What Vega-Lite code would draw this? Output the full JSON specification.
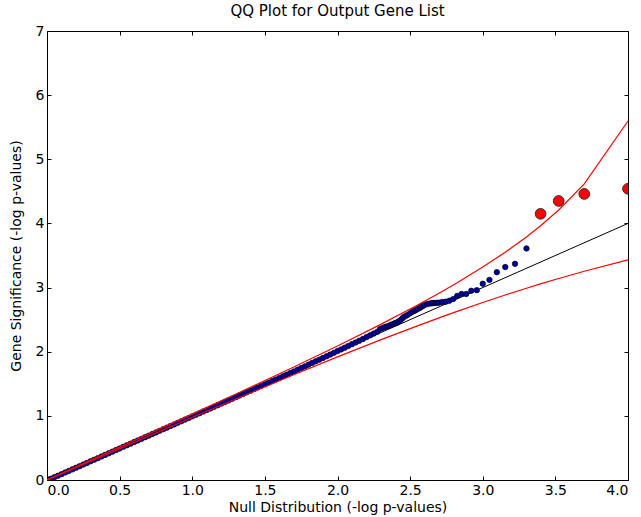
{
  "$schema": "https://vega.github.io/schema/vega-lite/v6.json",
  "autosize": "none",
  "width": 581,
  "height": 449,
  "padding": {"left": 47, "top": 31, "right": 13, "bottom": 37},
  "background": "white",
  "title": {"text": "QQ Plot for Output Gene List", "font": "DejaVu Sans", "fontSize": 15, "fontWeight": "normal", "color": "black", "offset": 5},
  "config": {
    "view": {"stroke": "black", "strokeWidth": 1},
    "axis": {"grid": false, "domain": false, "tickColor": "black", "tickSize": -4, "tickWidth": 1, "labelPadding": 7, "labelFont": "DejaVu Sans", "labelFontSize": 14, "labelColor": "black", "titleFont": "DejaVu Sans", "titleFontSize": 14, "titleFontWeight": "normal", "titleColor": "black"}
  },
  "datasets": {
    "diag": [{"x": 0, "y": 0}, {"x": 4, "y": 4}],
    "band": [
      {"x": 0, "hi": 0.0002, "lo": 0},
      {"x": 0.301, "hi": 0.310, "lo": 0.293},
      {"x": 0.5, "hi": 0.513, "lo": 0.488},
      {"x": 0.699, "hi": 0.716, "lo": 0.682},
      {"x": 1.0, "hi": 1.0275, "lo": 0.9735},
      {"x": 1.301, "hi": 1.340, "lo": 1.263},
      {"x": 1.699, "hi": 1.762, "lo": 1.640},
      {"x": 2.0, "hi": 2.0895, "lo": 1.919},
      {"x": 2.301, "hi": 2.4305, "lo": 2.1886},
      {"x": 2.523, "hi": 2.694, "lo": 2.380},
      {"x": 2.699, "hi": 2.913, "lo": 2.528},
      {"x": 2.824, "hi": 3.076, "lo": 2.629},
      {"x": 3.0, "hi": 3.319, "lo": 2.767},
      {"x": 3.155, "hi": 3.551, "lo": 2.884},
      {"x": 3.301, "hi": 3.790, "lo": 2.990},
      {"x": 3.398, "hi": 3.963, "lo": 3.057},
      {"x": 3.523, "hi": 4.209, "lo": 3.141},
      {"x": 3.699, "hi": 4.616, "lo": 3.254},
      {"x": 4.0, "hi": 5.597, "lo": 3.433}
    ],
    "big": [
      {"x": 3.398, "y": 4.15},
      {"x": 3.523, "y": 4.35},
      {"x": 3.699, "y": 4.46},
      {"x": 4.0, "y": 4.54}
    ],
    "pts": [
      {"x": 0.000, "y": 0.000}, {"x": 0.025, "y": 0.018}, {"x": 0.050, "y": 0.043}, {"x": 0.075, "y": 0.066},
      {"x": 0.100, "y": 0.091}, {"x": 0.125, "y": 0.117}, {"x": 0.150, "y": 0.141}, {"x": 0.175, "y": 0.166},
      {"x": 0.200, "y": 0.191}, {"x": 0.225, "y": 0.216}, {"x": 0.250, "y": 0.241}, {"x": 0.275, "y": 0.266},
      {"x": 0.300, "y": 0.292}, {"x": 0.325, "y": 0.316}, {"x": 0.350, "y": 0.341}, {"x": 0.375, "y": 0.367},
      {"x": 0.400, "y": 0.391}, {"x": 0.425, "y": 0.416}, {"x": 0.450, "y": 0.442}, {"x": 0.475, "y": 0.466},
      {"x": 0.500, "y": 0.491}, {"x": 0.525, "y": 0.517}, {"x": 0.550, "y": 0.541}, {"x": 0.575, "y": 0.566},
      {"x": 0.600, "y": 0.592}, {"x": 0.625, "y": 0.616}, {"x": 0.650, "y": 0.641}, {"x": 0.675, "y": 0.667},
      {"x": 0.700, "y": 0.691}, {"x": 0.725, "y": 0.717}, {"x": 0.750, "y": 0.741}, {"x": 0.775, "y": 0.766},
      {"x": 0.800, "y": 0.792}, {"x": 0.825, "y": 0.816}, {"x": 0.850, "y": 0.842}, {"x": 0.875, "y": 0.866},
      {"x": 0.900, "y": 0.891}, {"x": 0.925, "y": 0.917}, {"x": 0.950, "y": 0.942}, {"x": 0.975, "y": 0.966},
      {"x": 1.000, "y": 0.992}, {"x": 1.025, "y": 1.016}, {"x": 1.050, "y": 1.041}, {"x": 1.075, "y": 1.067},
      {"x": 1.100, "y": 1.091}, {"x": 1.125, "y": 1.116}, {"x": 1.150, "y": 1.142}, {"x": 1.175, "y": 1.166},
      {"x": 1.200, "y": 1.191}, {"x": 1.225, "y": 1.217}, {"x": 1.250, "y": 1.241}, {"x": 1.275, "y": 1.266},
      {"x": 1.300, "y": 1.292}, {"x": 1.325, "y": 1.317}, {"x": 1.350, "y": 1.341}, {"x": 1.375, "y": 1.367},
      {"x": 1.400, "y": 1.392}, {"x": 1.425, "y": 1.416}, {"x": 1.450, "y": 1.442}, {"x": 1.475, "y": 1.467},
      {"x": 1.500, "y": 1.491}, {"x": 1.525, "y": 1.517}, {"x": 1.550, "y": 1.542}, {"x": 1.575, "y": 1.566},
      {"x": 1.600, "y": 1.592}, {"x": 1.625, "y": 1.618}, {"x": 1.650, "y": 1.642}, {"x": 1.675, "y": 1.668},
      {"x": 1.700, "y": 1.693}, {"x": 1.725, "y": 1.719}, {"x": 1.750, "y": 1.745}, {"x": 1.775, "y": 1.771},
      {"x": 1.800, "y": 1.797}, {"x": 1.825, "y": 1.824}, {"x": 1.850, "y": 1.850}, {"x": 1.875, "y": 1.876},
      {"x": 1.900, "y": 1.902}, {"x": 1.925, "y": 1.929}, {"x": 1.950, "y": 1.955}, {"x": 1.975, "y": 1.982},
      {"x": 2.000, "y": 2.010}, {"x": 2.025, "y": 2.036}, {"x": 2.050, "y": 2.063}, {"x": 2.075, "y": 2.090},
      {"x": 2.100, "y": 2.118}, {"x": 2.125, "y": 2.144}, {"x": 2.150, "y": 2.170}, {"x": 2.175, "y": 2.198},
      {"x": 2.200, "y": 2.228}, {"x": 2.225, "y": 2.255}, {"x": 2.250, "y": 2.283}, {"x": 2.275, "y": 2.312},
      {"x": 2.293, "y": 2.354}, {"x": 2.310, "y": 2.370}, {"x": 2.327, "y": 2.385}, {"x": 2.342, "y": 2.395},
      {"x": 2.357, "y": 2.406}, {"x": 2.370, "y": 2.420}, {"x": 2.384, "y": 2.432}, {"x": 2.395, "y": 2.443},
      {"x": 2.407, "y": 2.453}, {"x": 2.418, "y": 2.468}, {"x": 2.430, "y": 2.484}, {"x": 2.442, "y": 2.510},
      {"x": 2.453, "y": 2.536}, {"x": 2.467, "y": 2.555}, {"x": 2.481, "y": 2.572}, {"x": 2.500, "y": 2.600},
      {"x": 2.517, "y": 2.624}, {"x": 2.530, "y": 2.638}, {"x": 2.540, "y": 2.650}, {"x": 2.555, "y": 2.670},
      {"x": 2.568, "y": 2.686}, {"x": 2.578, "y": 2.700}, {"x": 2.587, "y": 2.713}, {"x": 2.600, "y": 2.730},
      {"x": 2.618, "y": 2.744}, {"x": 2.633, "y": 2.750}, {"x": 2.648, "y": 2.755}, {"x": 2.659, "y": 2.758},
      {"x": 2.671, "y": 2.760}, {"x": 2.683, "y": 2.762}, {"x": 2.699, "y": 2.765}, {"x": 2.721, "y": 2.775},
      {"x": 2.745, "y": 2.780}, {"x": 2.770, "y": 2.795}, {"x": 2.796, "y": 2.820}, {"x": 2.824, "y": 2.870},
      {"x": 2.854, "y": 2.900}, {"x": 2.886, "y": 2.900}, {"x": 2.921, "y": 2.950}, {"x": 2.959, "y": 2.960},
      {"x": 3.000, "y": 3.060}, {"x": 3.046, "y": 3.120}, {"x": 3.097, "y": 3.240}, {"x": 3.155, "y": 3.320},
      {"x": 3.222, "y": 3.370}, {"x": 3.301, "y": 3.610}
    ]
  },
  "resolve": {"axis": {"x": "independent", "y": "independent"}},
  "layer": [
    {
      "data": {"name": "diag"},
      "mark": {"type": "line", "color": "black", "strokeWidth": 1, "clip": true},
      "encoding": {
        "x": {"field": "x", "type": "quantitative", "scale": {"domain": [0, 4], "nice": false, "zero": false},
              "axis": {"title": "Null Distribution (-log p-values)", "values": [0, 0.5, 1, 1.5, 2, 2.5, 3, 3.5, 4], "format": ".1f", "titlePadding": 3}},
        "y": {"field": "y", "type": "quantitative", "scale": {"domain": [0, 7], "nice": false, "zero": false},
              "axis": {"title": "Gene Significance (-log p-values)", "values": [0, 1, 2, 3, 4, 5, 6, 7], "format": "d", "titlePadding": 12}}
      }
    },
    {
      "data": {"name": "pts"},
      "mark": {"type": "point", "filled": true, "shape": "circle", "size": 30, "fill": "#00009c", "stroke": "#000018", "strokeWidth": 0.7, "opacity": 1, "clip": true},
      "encoding": {
        "x": {"field": "x", "type": "quantitative", "axis": {"orient": "top", "labels": false, "title": null, "values": [0, 0.5, 1, 1.5, 2, 2.5, 3, 3.5, 4]}},
        "y": {"field": "y", "type": "quantitative", "axis": {"orient": "right", "labels": false, "title": null, "values": [0, 1, 2, 3, 4, 5, 6, 7]}}
      }
    },
    {
      "data": {"name": "band"},
      "mark": {"type": "line", "color": "#ff0000", "strokeWidth": 1.2, "clip": true},
      "encoding": {"x": {"field": "x", "type": "quantitative", "axis": null}, "y": {"field": "hi", "type": "quantitative", "axis": null}}
    },
    {
      "data": {"name": "band"},
      "mark": {"type": "line", "color": "#ff0000", "strokeWidth": 1.2, "clip": true},
      "encoding": {"x": {"field": "x", "type": "quantitative", "axis": null}, "y": {"field": "lo", "type": "quantitative", "axis": null}}
    },
    {
      "data": {"name": "big"},
      "mark": {"type": "point", "filled": true, "shape": "circle", "size": 115, "fill": "#ff0000", "stroke": "#333333", "strokeWidth": 1, "opacity": 1, "clip": true},
      "encoding": {"x": {"field": "x", "type": "quantitative", "axis": null}, "y": {"field": "y", "type": "quantitative", "axis": null}}
    }
  ]
}
